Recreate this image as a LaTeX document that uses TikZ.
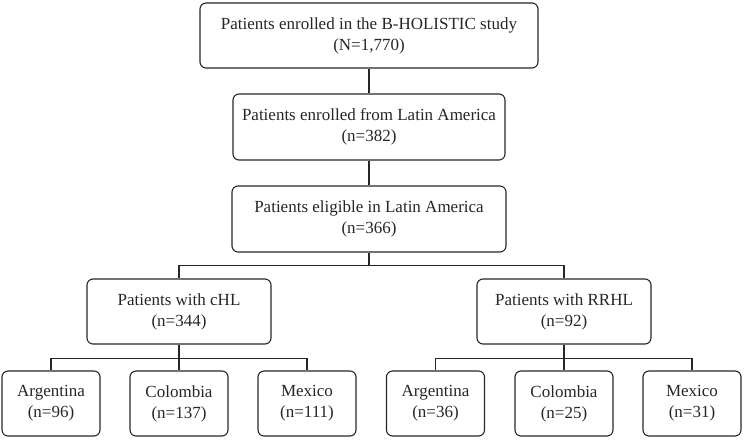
\documentclass[tikz,border=0pt]{standalone}
\usepackage{fontspec}
\setmainfont{Liberation Serif}
\definecolor{ink}{HTML}{262626}
\begin{document}
\begin{tikzpicture}[x=1pt,y=-1pt,
  box/.style={draw=ink, line width=1.1pt, rounded corners=6pt, align=center,
    text=ink, inner sep=0pt, font=\fontsize{17}{21}\selectfont},
  small/.style={box, minimum width=98pt, minimum height=65pt},
  conn/.style={draw=ink, line width=1.1pt}]
\useasboundingbox (0,0) rectangle (745,442);
\node[box, minimum width=338pt, minimum height=65pt] (b1) at (369,35.5) {Patients enrolled in the B-HOLISTIC study\\(N=1,770)};
\node[box, minimum width=272pt, minimum height=66pt] (b2) at (369,127) {Patients enrolled from Latin America\\(n=382)};
\node[box, minimum width=274pt, minimum height=66pt] (b3) at (369,219) {Patients eligible in Latin America\\(n=366)};
\node[box, minimum width=184pt, minimum height=65pt] (chl) at (179,311.5) {Patients with cHL\\(n=344)};
\node[box, minimum width=174pt, minimum height=65pt] (rrhl) at (564,311.5) {Patients with RRHL\\(n=92)};
\node[small] (a1) at (51,403.5) {Argentina\\(n=96)};
\node[small] (c1) at (179,403.5) {Colombia\\(n=137)};
\node[small] (m1) at (307,403.5) {Mexico\\(n=111)};
\node[small] (a2) at (435.5,403.5) {Argentina\\(n=36)};
\node[small] (c2) at (564,403.5) {Colombia\\(n=25)};
\node[small] (m2) at (692,403.5) {Mexico\\(n=31)};
\path[conn] (b1.south) -- (b2.north);
\path[conn] (b2.south) -- (b3.north);
\path[conn] (b3.south) -- ++(0,13) coordinate (j1);
\path[conn] (chl.north) |- (j1) -| (rrhl.north);
\path[conn] (chl.south) -- (c1.north);
\path[conn] (chl.south) ++(0,14) coordinate (j2);
\path[conn] (a1.north) |- (j2) -| (m1.north);
\path[conn] (rrhl.south) -- (c2.north);
\path[conn] (rrhl.south) ++(0,14) coordinate (j3);
\path[conn] (a2.north) |- (j3) -| (m2.north);
\end{tikzpicture}
\end{document}
